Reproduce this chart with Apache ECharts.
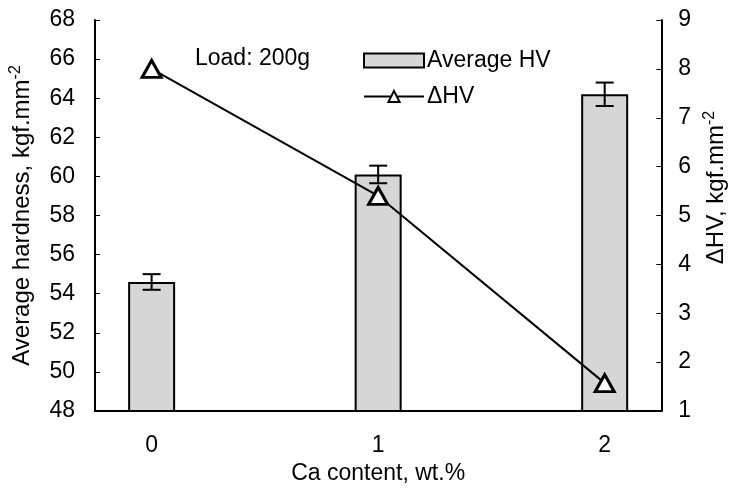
<!DOCTYPE html>
<html><head><meta charset="utf-8">
<script src="https://cdn.jsdelivr.net/npm/echarts@6/dist/echarts.min.js"></script>
<style>html,body{margin:0;padding:0;background:#fff}#c{width:736px;height:500px}</style>
</head><body><div id="c"></div>
<script>
// Data
const categories = ['0', '', '1', '', '2'];
const avgHV = [54.6, null, 60.1, null, 64.2];
const avgHVErr = [0.4, null, 0.45, null, 0.6];
const deltaHV = [8.0, null, 5.4, null, 1.57];
const leftTicks = {min: 48, max: 68, interval: 2};
const rightTicks = {min: 1, max: 9, interval: 1};

const errData = [];
avgHV.forEach((v, i) => { if (v != null) errData.push([i, v - avgHVErr[i], v + avgHVErr[i]]); });

const FONT = 'Liberation Sans, Arial, sans-serif';
const FS = 23;
const chart = echarts.init(document.getElementById('c'), null, {renderer: 'canvas'});
function supRich(fs) {
  return {
    n: {fontSize: fs, fontFamily: FONT, color: '#000'},
    s: {fontSize: Math.round(fs * 0.65), fontFamily: FONT, color: '#000', verticalAlign: 'top', padding: [0, 0, 12, 0]}
  };
}
chart.setOption({
  animation: false,
  textStyle: {fontFamily: FONT},
  grid: {left: 94, right: 71, top: 20, bottom: 89},
  title: {text: 'Load: 200g', left: 195, top: 47, padding: 0, textStyle: {fontSize: FS, fontWeight: 'normal', fontFamily: FONT, color: '#000'}},
  legend: {
    orient: 'vertical', left: 363, top: 49, padding: 0, itemWidth: 60, itemHeight: 14, itemGap: 13,
    textStyle: {fontSize: FS, fontFamily: FONT, color: '#000', padding: [0, 0, 0, -2]},
    data: [{name: 'Average HV', icon: 'rect'}, {name: 'ΔHV'}]
  },
  xAxis: {
    type: 'category', data: categories, boundaryGap: true,
    name: 'Ca content, wt.%', nameLocation: 'middle', nameGap: 48,
    nameTextStyle: {fontSize: FS, fontFamily: FONT, color: '#000'},
    axisLine: {lineStyle: {color: '#000', width: 2}},
    axisTick: {inside: true, length: 6, interval: 0, lineStyle: {color: '#000', width: 1}},
    axisLabel: {interval: 0, fontSize: FS, color: '#000', margin: 23, fontFamily: FONT},
    splitLine: {show: false}
  },
  yAxis: [{
    type: 'value', min: leftTicks.min, max: leftTicks.max, interval: leftTicks.interval,
    name: '{n|Average hardness, kgf.mm}{s|-2}', nameLocation: 'middle', nameGap: 59, nameRotate: 90,
    nameTextStyle: {rich: supRich(24)},
    axisLine: {show: true, lineStyle: {color: '#000', width: 2}},
    axisTick: {show: true, inside: true, length: 5, lineStyle: {color: '#000', width: 1}},
    axisLabel: {fontSize: FS, color: '#000', margin: 20, fontFamily: FONT},
    splitLine: {show: false}
  }, {
    type: 'value', position: 'right', min: rightTicks.min, max: rightTicks.max, interval: rightTicks.interval,
    name: '{n|ΔHV, kgf.mm}{s|-2}', nameLocation: 'middle', nameGap: 39, nameRotate: 90,
    nameTextStyle: {rich: supRich(24), padding: [0, 0, 0, 56]},
    axisLine: {show: true, lineStyle: {color: '#000', width: 2}},
    axisTick: {show: true, inside: true, length: 5, lineStyle: {color: '#000', width: 1}},
    axisLabel: {fontSize: FS, color: '#000', margin: 17, fontFamily: FONT},
    splitLine: {show: false}
  }],
  series: [{
    name: 'Average HV', type: 'bar', yAxisIndex: 0, data: avgHV, barWidth: 47,
    itemStyle: {color: '#d6d6d6', borderColor: '#000', borderWidth: 2}
  }, {
    name: 'err', type: 'custom', yAxisIndex: 0, data: errData, z: 5,
    renderItem: function (params, api) {
      const x = api.value(0);
      const lo = api.coord([x, api.value(1)]);
      const hi = api.coord([x, api.value(2)]);
      const w = 9;
      const st = {stroke: '#000', lineWidth: 2};
      return {type: 'group', children: [
        {type: 'line', shape: {x1: lo[0], y1: lo[1], x2: hi[0], y2: hi[1]}, style: st},
        {type: 'line', shape: {x1: lo[0] - w, y1: lo[1], x2: lo[0] + w, y2: lo[1]}, style: st},
        {type: 'line', shape: {x1: hi[0] - w, y1: hi[1], x2: hi[0] + w, y2: hi[1]}, style: st}
      ]};
    }
  }, {
    name: 'ΔHV', type: 'line', yAxisIndex: 1, data: deltaHV, connectNulls: true, z: 10,
    symbol: 'triangle', symbolSize: [19, 17], showAllSymbol: true,
    lineStyle: {color: '#000', width: 2},
    itemStyle: {color: '#fff', borderColor: '#000', borderWidth: 3}
  }]
});
</script></body></html>
